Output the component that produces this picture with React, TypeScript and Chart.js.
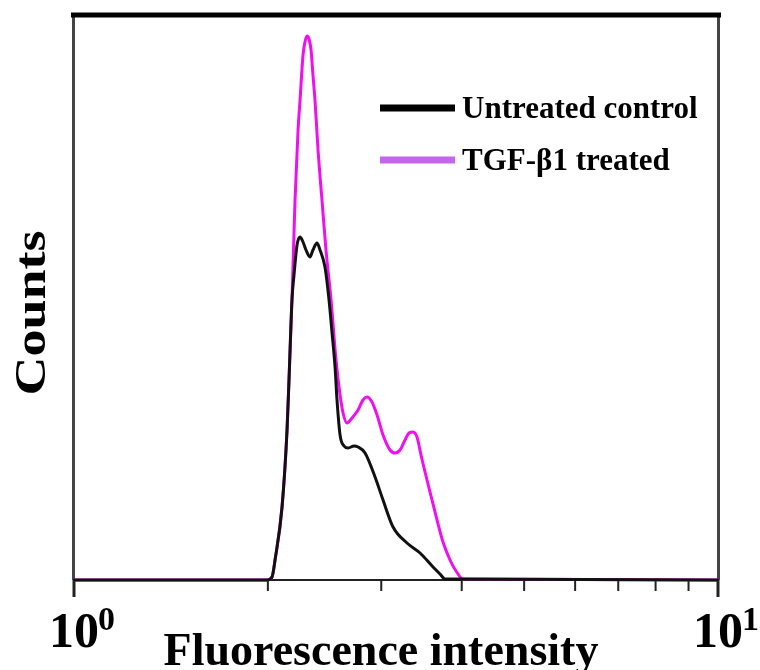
import React, { useEffect, useRef } from "react";
import { Chart, registerables } from "chart.js";

Chart.register(...registerables);

// Fluorescence intensity (log scale, 10^0 .. 10^1)
const controlX = [1, 1.994, 2.03, 2.052, 2.104, 2.142, 2.157, 2.18, 2.196, 2.22, 2.244, 2.268, 2.292, 2.325, 2.35, 2.384, 2.41, 2.453, 2.489, 2.516, 2.543, 2.561, 2.589, 2.626, 2.664, 2.721, 2.761, 2.831, 2.934, 3.019, 3.129, 3.289, 3.446, 3.61, 3.701, 3.768, 10];
const controlCounts = [0, 0, 3, 20, 73, 150, 200, 280, 305, 335, 343, 338, 330, 323, 330, 337, 330, 313, 280, 247, 213, 180, 145, 134, 132, 134, 133, 127, 103, 80, 53, 37, 27, 13, 6, 1, 0];

const treatedX = [1, 1.994, 2.03, 2.052, 2.104, 2.142, 2.157, 2.18, 2.204, 2.228, 2.244, 2.268, 2.284, 2.3, 2.317, 2.334, 2.35, 2.367, 2.393, 2.427, 2.462, 2.507, 2.552, 2.589, 2.617, 2.654, 2.702, 2.761, 2.81, 2.851, 2.902, 2.955, 3.019, 3.095, 3.151, 3.208, 3.266, 3.313, 3.361, 3.409, 3.458, 3.533, 3.597, 3.662, 3.741, 3.836, 3.919, 4.018, 10];
const treatedCounts = [0, 0, 3, 20, 73, 150, 200, 280, 380, 450, 480, 525, 538, 544, 541, 530, 505, 480, 430, 380, 330, 280, 220, 185, 167, 157, 162, 170, 180, 183, 178, 165, 145, 130, 127, 130, 140, 147, 148, 143, 125, 100, 80, 60, 38, 20, 9, 1, 0];

const seriesNames = ["Untreated control", "TGF-\u03b21 treated"];
const xTickValues = [1, 2, 3, 4, 5, 6, 7, 8, 9, 10];
const majorTicks = [
  { value: 1, base: "10", exp: "0" },
  { value: 10, base: "10", exp: "1" },
];
const xTitle = "Fluorescence intensity";
const yTitle = "Counts";
const yMax = 563;

const SERIF = '"Liberation Serif", "Times New Roman", serif';

const decorPlugin = {
  id: "decor",
  beforeDatasetsDraw(chart: any) {
    const { ctx, chartArea } = chart;
    const { left, right, top, bottom } = chartArea;
    const xs = chart.scales.x;
    ctx.save();
    // left & right frame
    ctx.strokeStyle = "#444";
    ctx.lineWidth = 3;
    ctx.beginPath();
    ctx.moveTo(left - 0.5, top);
    ctx.lineTo(left - 0.5, bottom);
    ctx.moveTo(right + 0.5, top);
    ctx.lineTo(right + 0.5, bottom);
    ctx.stroke();
    // top thick
    ctx.strokeStyle = "#000";
    ctx.lineWidth = 5;
    ctx.beginPath();
    ctx.moveTo(left - 3, top - 2);
    ctx.lineTo(right + 3, top - 2);
    ctx.stroke();
    // bottom axis
    ctx.strokeStyle = "#222";
    ctx.lineWidth = 2;
    ctx.beginPath();
    ctx.moveTo(left - 1, bottom);
    ctx.lineTo(right + 1, bottom);
    ctx.stroke();
    // ticks
    for (const v of xTickValues) {
      const px = xs.getPixelForValue(v);
      const major = v === 1 || v === 10;
      ctx.lineWidth = major ? 3 : 2;
      ctx.strokeStyle = "#222";
      ctx.beginPath();
      ctx.moveTo(px, bottom);
      ctx.lineTo(px, bottom + (major ? 17 : 11));
      ctx.stroke();
    }
    ctx.restore();
  },
  afterDraw(chart: any) {
    const { ctx, chartArea } = chart;
    const xs = chart.scales.x;
    ctx.save();
    ctx.fillStyle = "#000";
    ctx.textBaseline = "alphabetic";
    // tick labels
    for (const t of majorTicks) {
      const px = xs.getPixelForValue(t.value);
      ctx.font = `bold 50px ${SERIF}`;
      ctx.textAlign = "left";
      const bx = px - 25;
      ctx.fillText(t.base, bx, 647);
      const w = ctx.measureText(t.base).width;
      ctx.font = `bold 34px ${SERIF}`;
      ctx.fillText(t.exp, bx + w - 1, 630);
    }
    // x title
    ctx.font = `bold 46px ${SERIF}`;
    ctx.textAlign = "center";
    ctx.fillText(xTitle, 381, 665);
    // y title
    ctx.save();
    ctx.translate(45, 313);
    ctx.rotate(-Math.PI / 2);
    ctx.font = `bold 45px ${SERIF}`;
    const tw = ctx.measureText(yTitle).width;
    ctx.scale(165 / tw, 1);
    ctx.textAlign = "center";
    ctx.fillText(yTitle, 0, 0);
    ctx.restore();
    // legend
    const colors = ["#000000", "#c465ee"];
    const rows = [108, 160];
    for (let i = 0; i < 2; i++) {
      ctx.strokeStyle = colors[i];
      ctx.lineWidth = 7;
      ctx.beginPath();
      ctx.moveTo(380, rows[i]);
      ctx.lineTo(455, rows[i]);
      ctx.stroke();
      ctx.fillStyle = "#000";
      ctx.font = `bold 31px ${SERIF}`;
      ctx.textAlign = "left";
      ctx.fillText(seriesNames[i], 462, rows[i] + 10);
    }
    ctx.restore();
  },
};

export default function App() {
  const ref = useRef<HTMLCanvasElement | null>(null);
  useEffect(() => {
    document.body.style.margin = "0";
    const canvas = ref.current!;
    const chart = new Chart(canvas, {
      type: "line",
      data: {
        datasets: [
          {
            label: seriesNames[0],
            data: controlX.map((x, i) => ({ x, y: controlCounts[i] })),
            borderColor: "#111",
            borderWidth: 3,
            pointRadius: 0,
            fill: false,
            cubicInterpolationMode: "monotone",
            clip: 6,
            order: 0,
          },
          {
            label: seriesNames[1],
            data: treatedX.map((x, i) => ({ x, y: treatedCounts[i] })),
            borderColor: "#ee10ee",
            borderWidth: 3,
            pointRadius: 0,
            fill: false,
            cubicInterpolationMode: "monotone",
            clip: 6,
            order: 1,
          },
        ],
      },
      options: {
        animation: false,
        responsive: false,
        devicePixelRatio: 1,
        layout: { padding: { left: 74, right: 42, top: 17, bottom: 90 } },
        plugins: { legend: { display: false }, tooltip: { enabled: false } },
        scales: {
          x: { type: "logarithmic", min: 1, max: 10, display: false },
          y: { type: "linear", min: 0, max: yMax, display: false },
        },
      },
      plugins: [decorPlugin],
    } as any);
    return () => chart.destroy();
  }, []);
  return (
    <div style={{ width: 760, height: 670, background: "#fff" }}>
      <canvas ref={ref} width={760} height={670} style={{ width: 760, height: 670, display: "block" }} />
    </div>
  );
}
